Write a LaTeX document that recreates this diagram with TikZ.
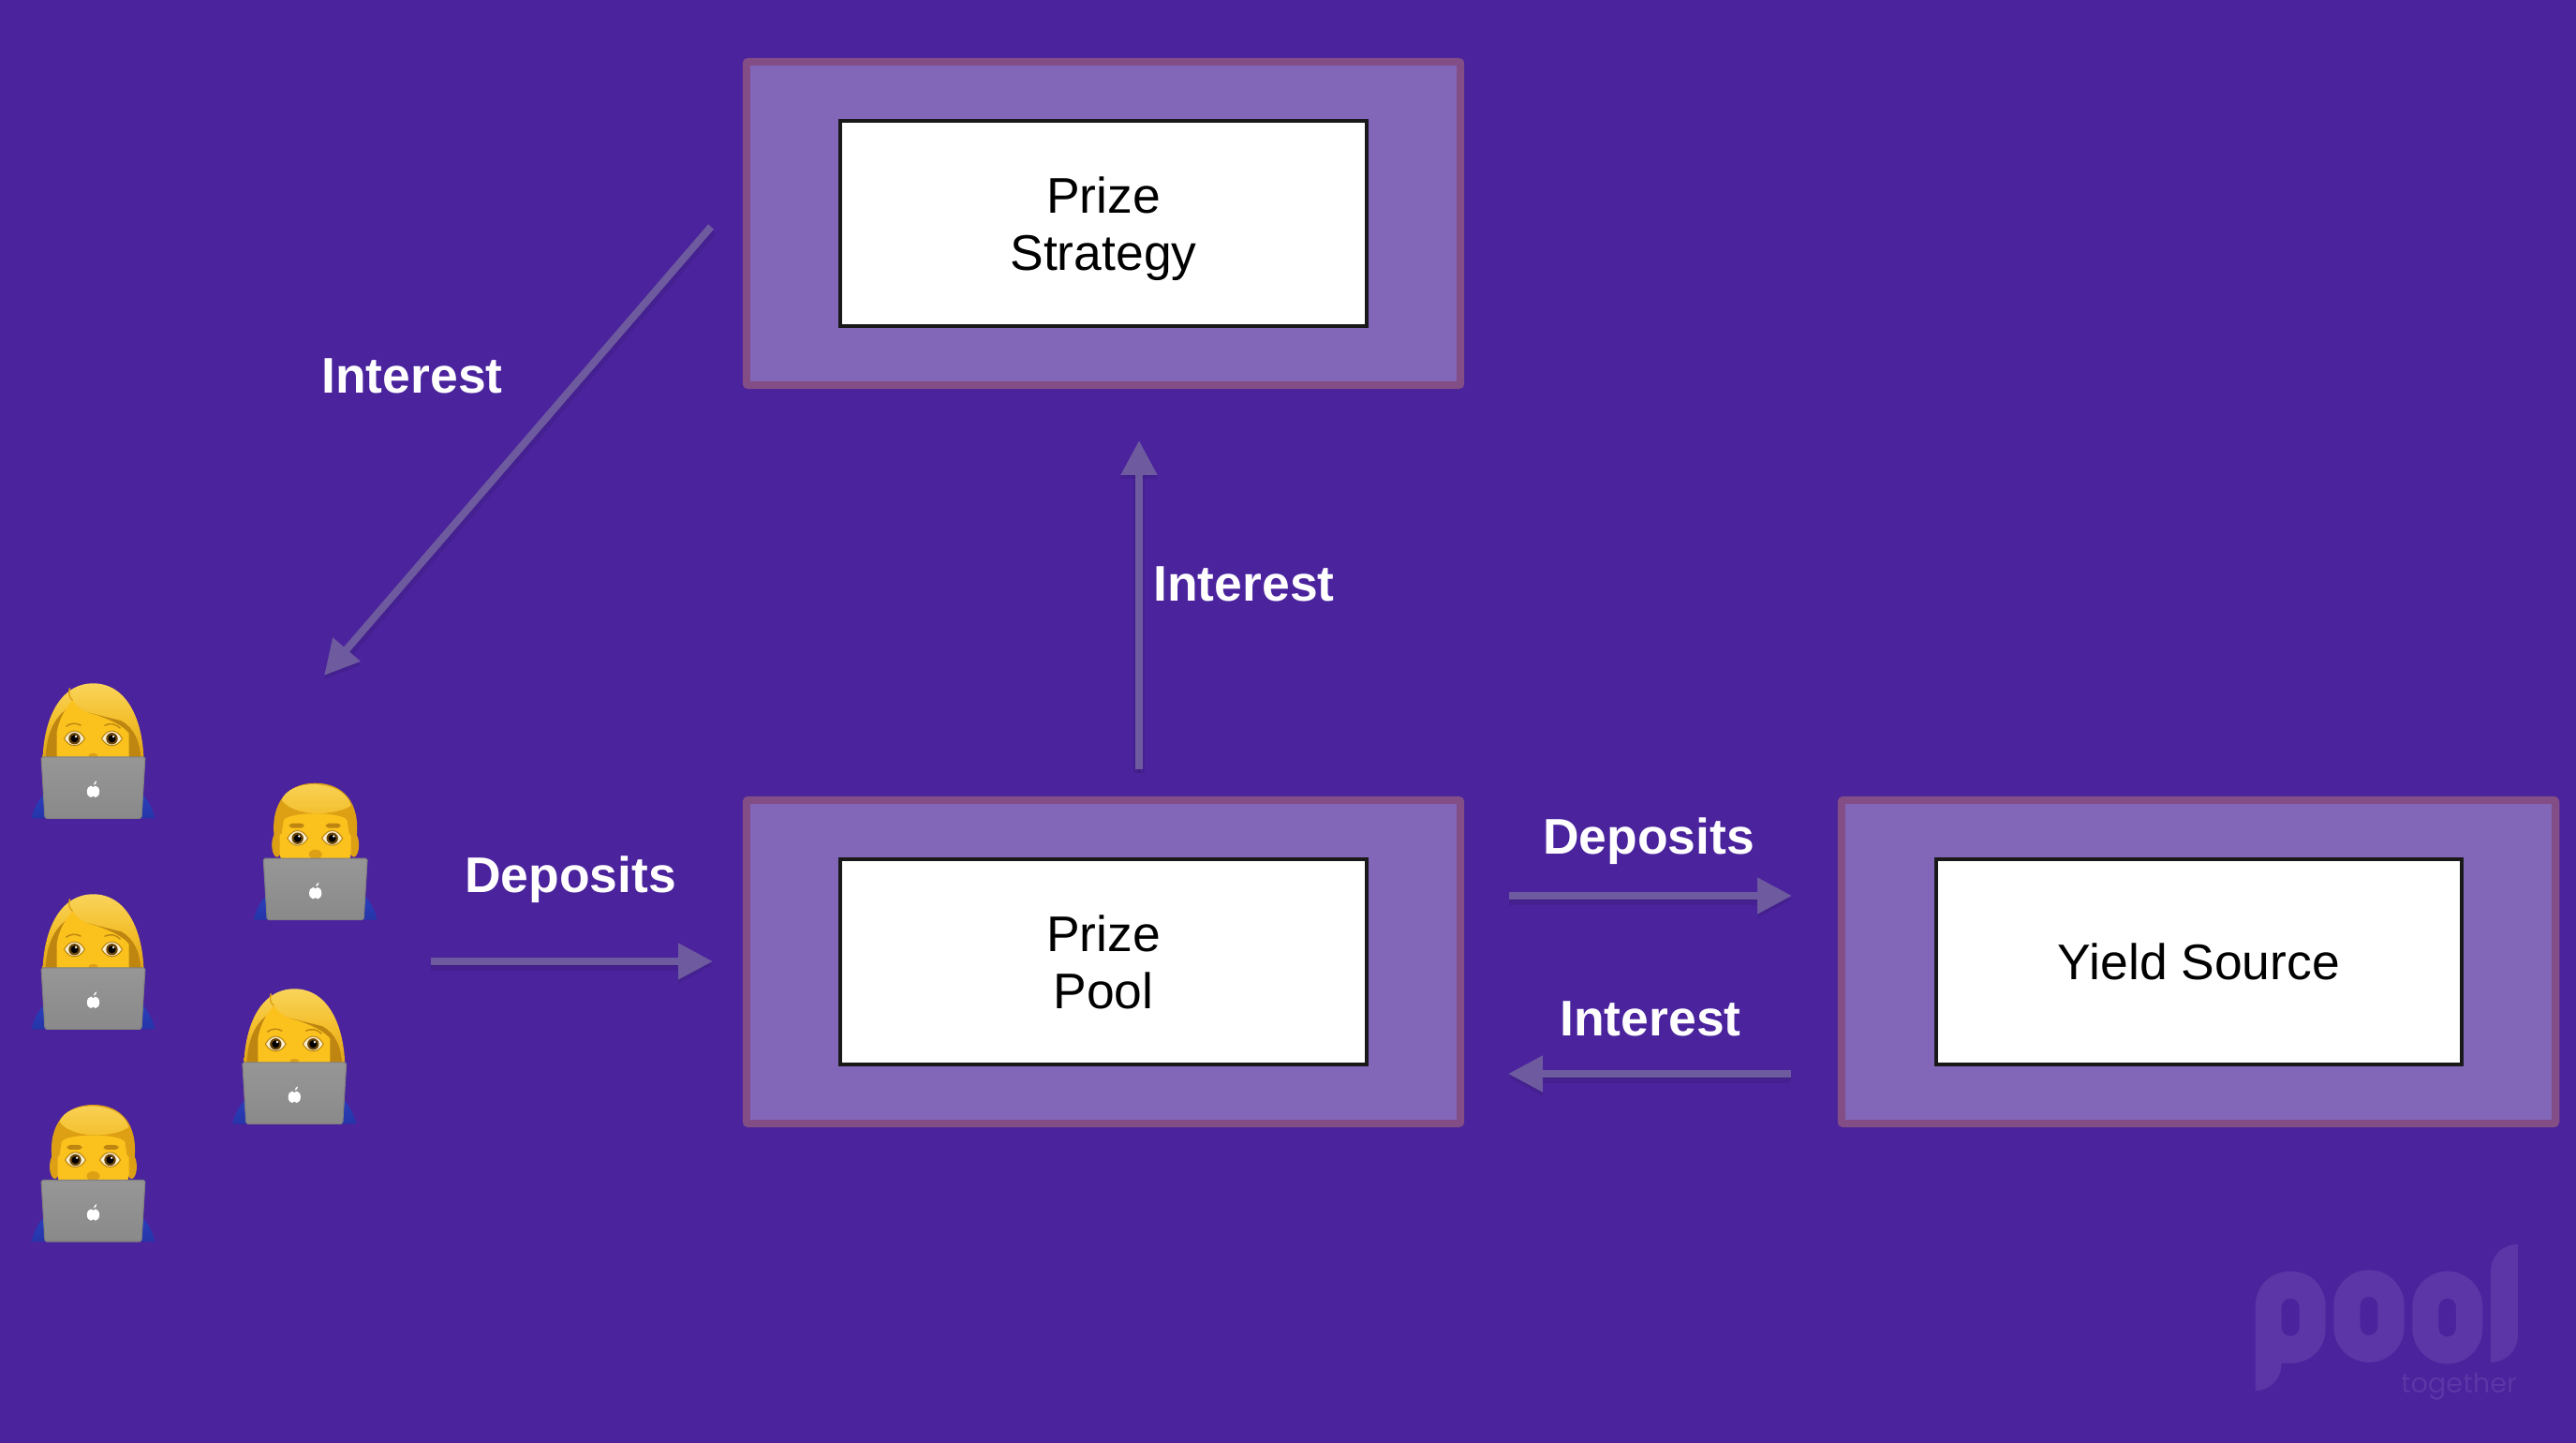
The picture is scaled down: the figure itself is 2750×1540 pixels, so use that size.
\documentclass[tikz,border=0pt]{standalone}
\usepackage{fontspec}
\setmainfont{Liberation Sans}
\newfontfamily\logofont{Poppins}
\usetikzlibrary{arrows.meta}
\definecolor{poolbg}{HTML}{4A239D}
\definecolor{boxfill}{HTML}{8266B8}
\definecolor{boxline}{HTML}{834E85}
\definecolor{flowcol}{HTML}{6E5A9E}
\definecolor{logocol}{HTML}{5C35A6}
\definecolor{hairlight}{HTML}{F9D45A}
\definecolor{hairmid}{HTML}{F3BE2B}
\definecolor{hairdark}{HTML}{DDA015}
\definecolor{hairback}{HTML}{BE8610}
\definecolor{skin}{HTML}{FBC21E}
\definecolor{eyewhite}{HTML}{F8EFCF}
\definecolor{irisbrown}{HTML}{6B4408}
\definecolor{shirt}{HTML}{2B3FBE}
\definecolor{shirtdark}{HTML}{2535A8}
\tikzset{
  outerbox/.style={draw=boxline, fill=boxfill, line width=2.28pt, rounded corners=0.6pt, minimum width=7.62cm, minimum height=3.45cm},
  innerbox/.style={draw=black!90, fill=white, line width=1.14pt, minimum width=5.61cm, minimum height=2.19cm, align=center, text=black, text depth=0pt, font=\fontsize{15.2}{17.5}\selectfont},
  flowlabel/.style={text=white, inner sep=0pt, text height=11pt, text depth=0pt, font=\fontsize{15.2}{17}\selectfont\bfseries},
  flow/.style={draw=flowcol, line width=2.28pt, -{Triangle[length=10.5pt,width=10.5pt]},
    preaction={draw=black, opacity=.08, line width=3.6pt, transform canvas={yshift=-1.1pt}},
    preaction={draw=black, opacity=.10, transform canvas={yshift=-1.1pt}}},
}
\newcommand{\emojieye}[2]{
  \begin{scope}[shift={(#1,#2)}]
    \fill[eyewhite, draw=hairback, line width=0.3pt] (-11,0) .. controls (-5,-11) and (5,-11) .. (11,0) .. controls (5,10) and (-5,10) .. (-11,0) -- cycle;
    \fill[irisbrown] (0,0) circle (6.2);
    \fill[black] (0,0) circle (4);
    \fill[white] (1.6,-2.2) circle (1.3);
  \end{scope}}
\newcommand{\laptopbody}{
  \shade[top color=black!41, bottom color=black!46, draw=black!50, line width=0.3pt, rounded corners=0.5pt] (-55.5,-65.5) -- (55.5,-65.5) -- (51.5,0) -- (-51.5,0) -- cycle;
  \fill[white] (-2.4,-28.5) ellipse [x radius=4.2, y radius=6.2];
  \fill[white] (2.4,-28.5) ellipse [x radius=4.2, y radius=6.2];
  \fill[white] (0.4,-35.5) .. controls (0.6,-38) and (2,-39.5) .. (3.8,-40) .. controls (3.8,-37.5) and (2.2,-36) .. (0.4,-35.5) -- cycle;}
\newcommand{\shoulders}{
  \shade[top color=shirt, bottom color=shirtdark] (-66,0) .. controls (-63,-12) and (-58,-21) .. (-50,-28) -- (50,-28) .. controls (58,-21) and (63,-12) .. (66,0) -- cycle;}
\newcommand{\womanlaptop}[2]{
  \begin{scope}[shift={(#1,#2)}]
    \shoulders
    % hair and face
    \shade[top color=hairlight, bottom color=hairdark, middle color=hairmid] (-54,-62) .. controls (-53,-105) and (-36,-144) .. (0,-144) .. controls (36,-144) and (53,-105) .. (54,-62) -- cycle;
    \fill[hairback] (-51,-62) .. controls (-50,-90) and (-42,-108) .. (-26,-118) -- (30,-104) .. controls (44,-96) and (50,-82) .. (51,-62) -- cycle;
    \fill[skin] (-39,-62) -- (-39,-90) .. controls (-37,-106) and (-29,-118) .. (-22,-126) .. controls (-15,-115) and (-7,-113) .. (4,-110) .. controls (18,-105) and (30,-100) .. (38,-91) -- (38,-62) -- cycle;
    \draw[hairdark, line width=0.4pt] (-25,-139) .. controls (-27,-133) and (-25,-128) .. (-22,-126);
    \draw[hairback, line width=0.4pt] (-29,-98) .. controls (-24,-102) and (-18,-102) .. (-13,-99);
    \draw[hairback, line width=0.4pt] (12,-99) .. controls (18,-102) and (24,-101) .. (29,-96);
    \emojieye{-20}{-85}
    \emojieye{20}{-85}
    \fill[hairdark] (0,-67) ellipse [x radius=5, y radius=2.5];
    \laptopbody
  \end{scope}}
\newcommand{\manlaptop}[2]{
  \begin{scope}[shift={(#1,#2)}]
    \shoulders
    % ears, face, hair
    \fill[hairdark] (-41,-80) ellipse [x radius=5.5, y radius=13];
    \fill[hairdark] (41,-80) ellipse [x radius=5.5, y radius=13];
    \fill[skin, rounded corners=3pt] (-38,-125) rectangle (38,-60);
    \fill[hairdark] (-44,-88) .. controls (-48,-125) and (-30,-146) .. (0,-146) .. controls (30,-146) and (48,-125) .. (44,-88) -- (36,-92) -- (34,-106) .. controls (30,-116) and (-30,-116) .. (-34,-106) -- (-36,-92) -- cycle;
    \shade[top color=hairlight, bottom color=hairmid] (-36,-128) .. controls (-28,-151) and (30,-151) .. (38,-122) .. controls (20,-110) and (-24,-110) .. (-36,-128) -- cycle;
    \fill[hairback, rounded corners=1pt] (-28,-103) rectangle (-12,-98);
    \fill[hairback, rounded corners=1pt] (11,-103) rectangle (27,-98);
    \emojieye{-19}{-87}
    \emojieye{18}{-87}
    \fill[hairdark] (0,-70) ellipse [x radius=7, y radius=5];
    \laptopbody
  \end{scope}}
\begin{document}
\begin{tikzpicture}[x=0.01cm, y=-0.01cm]
  \fill[poolbg] (0,0) rectangle (2750,1540);
  % boxes
  \node[outerbox] (strategyouter) at (1178,238.5) {};
  \node[innerbox] (strategy) at (1178,238.5) {Prize\\Strategy};
  \node[outerbox] (poolouter) at (1178,1026.5) {};
  \node[innerbox] (pool) at (1178,1026.5) {Prize\\Pool};
  \node[outerbox] (yieldouter) at (2347,1026.5) {};
  \node[innerbox] (yield) at (2347.5,1026.5) {Yield Source};
  % arrow ends
  \coordinate (diagstart) at (759,242);
  \coordinate (diagend) at (346,721);
  \coordinate (upstart) at (1216,821);
  \coordinate (upend) at (1216,470);
  \coordinate (userstart) at (460,1026);
  \coordinate (userend) at (761,1026);
  \coordinate (yieldstart) at (1611,956);
  \coordinate (yieldend) at (1913,956);
  \coordinate (backstart) at (1912,1146);
  \coordinate (backend) at (1610,1146);
  \draw[flow] (diagstart) -- (diagend);
  \draw[flow] (upstart) -- (upend);
  \draw[flow] (userstart) -- (userend);
  \draw[flow] (yieldstart) -- (yieldend);
  \draw[flow] (backstart) -- (backend);
  % labels
  \node[flowlabel] (interestdiag) at (440,400) {Interest};
  \node[flowlabel] (interestup) at (1328,622) {Interest};
  \node[flowlabel] (depositsuser) at (609,933) {Deposits};
  \node[flowlabel] (depositsyield) at (1760,892) {Deposits};
  \node[flowlabel] (interestback) at (1762,1086) {Interest};
  % people
  \womanlaptop{99.5}{873.3}
  \manlaptop{336.7}{981.7}
  \womanlaptop{99.5}{1098.3}
  \womanlaptop{314.3}{1199.3}
  \manlaptop{99.5}{1325}
  % logo
  \begin{scope}[shift={(2350,1290)}, scale=0.3333]
    \fill[logocol, even odd rule] (173,583) -- (173,312) .. controls (173,245) and (225,200) .. (285,200) .. controls (348,200) and (398,245) .. (398,312) -- (398,383) .. controls (398,450) and (348,495) .. (285,495) -- (257,495) .. controls (257,550) and (215,583) .. (173,583) -- cycle
      [rounded corners=2.65pt] (257,287) rectangle (314,408);
    \fill[logocol, even odd rule, rounded corners=10.7pt] (424,196) rectangle (650,492)
      [rounded corners=2.65pt] (509,282) rectangle (565,405);
    \fill[logocol, even odd rule, rounded corners=10.7pt] (676,200) rectangle (901,497)
      [rounded corners=2.65pt] (760,287) rectangle (816,410);
    \fill[logocol] (1014,114) -- (1014,405) .. controls (1014,455) and (975,492) .. (927,492) -- (927,200) .. controls (927,150) and (965,114) .. (1014,114) -- cycle;
    \node[text=logocol, inner sep=0pt, font=\logofont\fontsize{8.2}{9}\selectfont] (together) at (825,568) {together};
  \end{scope}
\end{tikzpicture}
\end{document}
